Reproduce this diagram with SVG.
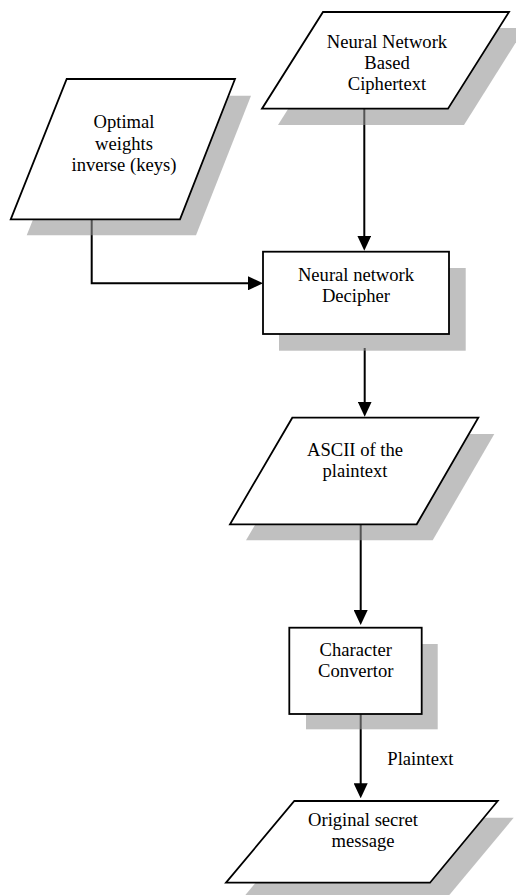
<svg xmlns="http://www.w3.org/2000/svg" width="516" height="895" viewBox="0 0 516 895">
  <style>
    .shadow { fill: #929292; fill-opacity: 0.58; stroke: none; }
    .shape { fill: #ffffff; stroke: #000000; stroke-width: 1.8; stroke-linejoin: miter; }
    .label { font-family: "Liberation Serif", "Times New Roman", serif; font-size: 18.6px; fill: #000000; text-anchor: middle; }
    .edge { fill: none; stroke: #000000; stroke-width: 2; }
    .edge-label { font-family: "Liberation Serif", "Times New Roman", serif; font-size: 18.6px; fill: #000000; }
  </style>
  <defs>
    <marker id="arrow" viewBox="0 0 15 14" refX="5" refY="7" markerWidth="15" markerHeight="14" markerUnits="userSpaceOnUse" orient="auto">
      <path d="M0,0 L15,7 L0,14 Z" fill="#000000"/>
    </marker>
  </defs>
  <rect width="516" height="895" fill="#ffffff"/>

  <!-- Connectors sit beneath the nodes so the drop shadows tint them -->
  <g id="connectors">
    <path class="edge" d="M364.3,108.7 V240.7" marker-end="url(#arrow)"/>
    <path class="edge" d="M91.7,219.3 V283.3 H253" marker-end="url(#arrow)"/>
    <path class="edge" d="M364.7,348 V406.7" marker-end="url(#arrow)"/>
    <path class="edge" d="M360.7,524.3 V615" marker-end="url(#arrow)"/>
    <path class="edge" d="M360.7,714 V788.3" marker-end="url(#arrow)"/>
    <text class="edge-label" x="387.3" y="765">Plaintext</text>
  </g>

  <!-- Input: ciphertext -->
  <g id="ciphertext">
    <polygon class="shadow" points="339,28 525,28 464,125 278,125"/>
    <polygon class="shape" points="323,12 509,12 448,108.7 262,108.7"/>
    <text class="label" x="387" y="47.5">Neural Network</text>
    <text class="label" x="387" y="68.5">Based</text>
    <text class="label" x="387" y="89.5">Ciphertext</text>
  </g>

  <!-- Input: keys -->
  <g id="keys">
    <polygon class="shadow" points="82.7,95.7 251,95.7 196,235.3 26.7,235.3"/>
    <polygon class="shape" points="66.7,79 235,79 180,219.3 10.7,219.3"/>
    <text class="label" x="124" y="128">Optimal</text>
    <text class="label" x="124" y="149.5">weights</text>
    <text class="label" x="124" y="171">inverse (keys)</text>
  </g>

  <!-- Process: decipher -->
  <g id="decipher">
    <rect class="shadow" x="279" y="268" width="186.7" height="82.7"/>
    <rect class="shape" x="263" y="251.7" width="186" height="82.3"/>
    <text class="label" x="356" y="280.5">Neural network</text>
    <text class="label" x="356" y="301.7">Decipher</text>
  </g>

  <!-- Output: ASCII values -->
  <g id="ascii">
    <polygon class="shadow" points="308.3,434 494.3,434 432.7,540.3 246,540.3"/>
    <polygon class="shape" points="292.3,417.7 478.3,417.7 416.7,524.3 230,524.3"/>
    <text class="label" x="355" y="455.7">ASCII of the</text>
    <text class="label" x="355" y="477">plaintext</text>
  </g>

  <!-- Process: character conversion -->
  <g id="converter">
    <rect class="shadow" x="306" y="644" width="131.7" height="85.3"/>
    <rect class="shape" x="289.3" y="627.7" width="132.4" height="86.3"/>
    <text class="label" x="355.7" y="656">Character</text>
    <text class="label" x="355.7" y="677.3">Convertor</text>
  </g>

  <!-- Output: recovered message -->
  <g id="message">
    <polygon class="shadow" points="310.3,817.7 513.7,817.7 446,899 242,899"/>
    <polygon class="shape" points="294.3,801 497.7,801 430,882.7 226,882.7"/>
    <text class="label" x="363" y="825.7">Original secret</text>
    <text class="label" x="363" y="846.7">message</text>
  </g>
</svg>
